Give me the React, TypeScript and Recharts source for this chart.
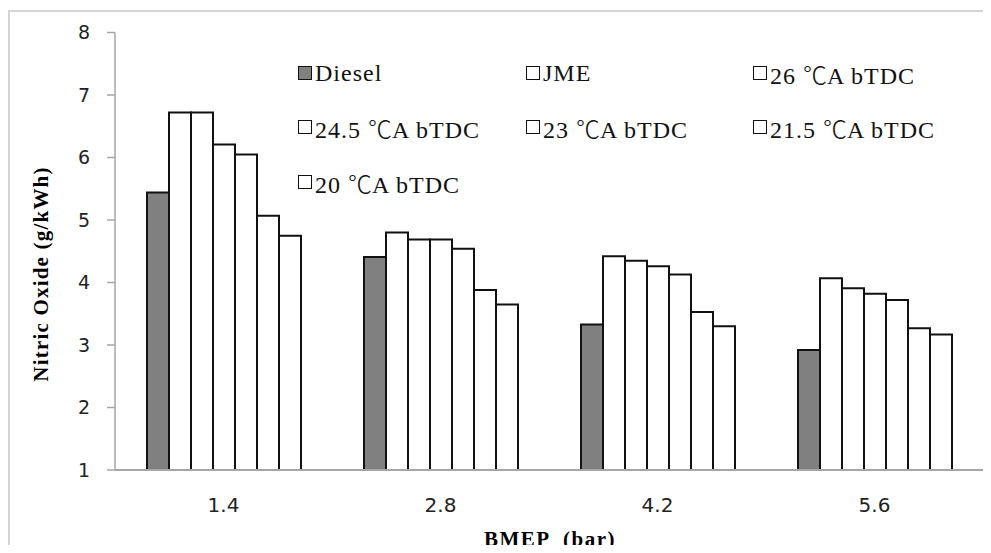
import React from 'react';
import { BarChart, Bar, XAxis, YAxis } from 'recharts';

const categories = ['1.4', '2.8', '4.2', '5.6'];
const seriesNames = [
  'Diesel',
  'JME',
  '26 ℃A bTDC',
  '24.5 ℃A bTDC',
  '23 ℃A bTDC',
  '21.5 ℃A bTDC',
  '20 ℃A bTDC',
];
const diesel = [5.44, 4.41, 3.33, 2.92];
const jme = [6.72, 4.8, 4.42, 4.07];
const ca26 = [6.72, 4.69, 4.35, 3.91];
const ca245 = [6.21, 4.69, 4.26, 3.82];
const ca23 = [6.05, 4.54, 4.13, 3.72];
const ca215 = [5.07, 3.88, 3.53, 3.27];
const ca20 = [4.75, 3.65, 3.3, 3.17];
const yTicks = [1, 2, 3, 4, 5, 6, 7, 8];
const seriesFills = ['#808080', '#ffffff', '#ffffff', '#ffffff', '#ffffff', '#ffffff', '#ffffff'];

const seriesValues = [diesel, jme, ca26, ca245, ca23, ca215, ca20];
const keys = seriesValues.map((_, i) => 's' + i);
const data = categories.map((c, ci) => {
  const row: Record<string, number | string> = { cat: c };
  seriesValues.forEach((vals, si) => {
    row[keys[si]] = vals[ci];
  });
  return row;
});

const legendCols = [298, 526, 753];
const legendRows = [73, 127, 182];

const serif = '"Liberation Serif", "Times New Roman", serif';
const cjk = '"Noto Sans CJK SC", "Noto Sans CJK JP", sans-serif';
const sans = '"DejaVu Sans", Verdana, sans-serif';

const YLabel = () => (
  <text
    x={41}
    y={274}
    transform="rotate(-90 41 274)"
    textAnchor="middle"
    dominantBaseline="central"
    fontFamily={serif}
    fontWeight="bold"
    fontSize={21}
    letterSpacing={1.2}
    fill="#000"
  >
    Nitric Oxide (g/kWh)
  </text>
);

const XLabel = () => (
  <text
    x={550}
    y={539}
    textAnchor="middle"
    dominantBaseline="central"
    fontFamily={serif}
    fontWeight="bold"
    fontSize={21}
    letterSpacing={1.5}
    fill="#000"
    style={{ whiteSpace: 'pre' }}
  >
    {'BMEP  (bar)'}
  </text>
);

const renderName = (name: string) => {
  const parts = name.split('℃');
  if (parts.length === 1) return name;
  return (
    <>
      {parts[0]}
      <span style={{ fontFamily: cjk, fontWeight: 300, letterSpacing: 0 }}>℃</span>
      {parts[1]}
    </>
  );
};

export default function App() {
  return (
    <div
      style={{
        position: 'relative',
        width: 991,
        height: 553,
        margin: -8,
        overflow: 'hidden',
        background: '#fff',
      }}
    >
      <div
        style={{
          position: 'absolute',
          left: 8,
          top: 10,
          width: 2000,
          height: 2000,
          borderLeft: '2px solid #d4d4d4',
          borderTop: '2px solid #d4d4d4',
        }}
      />
      <div style={{ position: 'absolute', left: 0, top: 0 }}>
        <BarChart
          width={991}
          height={553}
          data={data}
          margin={{ top: 32.5, right: 8, bottom: 23, left: 55 }}
          barCategoryGap={32}
          barGap={0}
        >
          <XAxis
            dataKey="cat"
            height={60}
            tickLine={false}
            tickSize={0}
            tickMargin={28}
            axisLine={{ stroke: '#a6a6a6', strokeWidth: 2 }}
            tick={{ fontSize: 20, fill: '#222', fontFamily: sans }}
            label={<XLabel />}
          />
          <YAxis
            type="number"
            domain={[1, 8]}
            ticks={yTicks}
            width={60}
            tickSize={8}
            tickMargin={17}
            axisLine={{ stroke: '#a6a6a6', strokeWidth: 1.5 }}
            tickLine={{ stroke: '#a6a6a6', strokeWidth: 1.5 }}
            tick={{ fontSize: 19, fill: '#222', fontFamily: sans }}
            label={<YLabel />}
          />
          {keys.map((k, i) => (
            <Bar
              key={k}
              dataKey={k}
              name={seriesNames[i]}
              fill={seriesFills[i]}
              stroke="#111"
              strokeWidth={2}
              isAnimationActive={false}
            />
          ))}
        </BarChart>
      </div>
      {seriesNames.map((name, i) => {
        const col = i % 3;
        const row = Math.floor(i / 3);
        return (
          <div
            key={name}
            style={{
              position: 'absolute',
              left: legendCols[col],
              top: legendRows[row] - 16,
              height: 32,
              display: 'flex',
              alignItems: 'center',
              fontFamily: serif,
              fontSize: 24,
              letterSpacing: 1,
              color: '#111',
              whiteSpace: 'pre',
            }}
          >
            <span
              style={{
                display: 'inline-block',
                width: 12,
                height: 12,
                border: '1.5px solid #111',
                background: seriesFills[i],
                marginRight: 3,
              }}
            />
            <span>{renderName(name)}</span>
          </div>
        );
      })}
    </div>
  );
}
